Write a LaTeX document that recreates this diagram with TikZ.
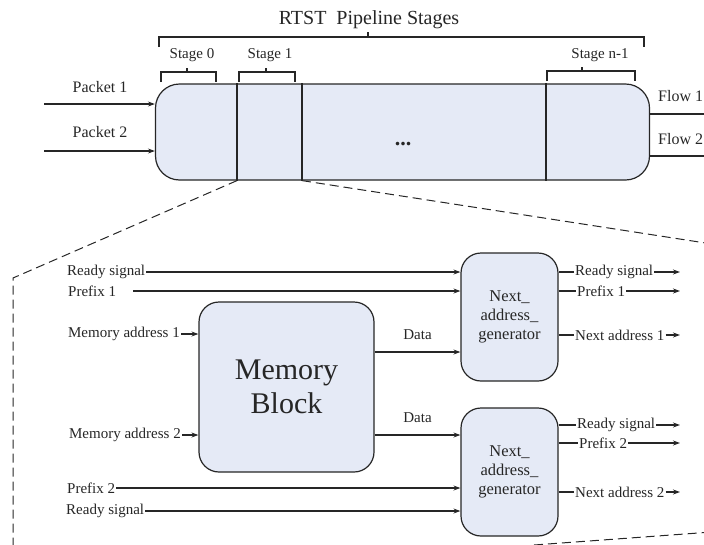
\documentclass[tikz,border=0pt]{standalone}
\usepackage{fontspec}
\setmainfont{Liberation Serif}
\usetikzlibrary{arrows.meta}
\definecolor{blockfill}{RGB}{229,234,246}
\definecolor{inkgray}{RGB}{38,38,38}
\begin{document}
\begin{tikzpicture}[x=1pt,y=-1pt,color=inkgray,line width=1.2pt,
        block/.style={draw, fill=blockfill, line width=1.2pt, rounded corners=20pt, inner sep=0pt},
        lbl/.style={inner sep=0.6pt, font=\fontsize{15}{18}\selectfont},
        biglbl/.style={inner sep=0.6pt, font=\fontsize{16}{18}\selectfont},
        sig/.style={-{Stealth[length=7pt,width=5pt]}},
        zoomline/.style={dash pattern=on 9pt off 5pt, line width=1pt}]
        \useasboundingbox (0,0) rectangle (704,544);
        
        % Drawing pipeline box
        \node (pipe) [block, rounded corners=24pt, minimum width=494pt, minimum height=96pt] at (402.5,132) {};%
        \coordinate (cut1) at (237,0);%
        \coordinate (cut2) at (302,0);%
        \coordinate (cut3) at (546,0);%
        \draw (pipe.north -| cut1) -- (pipe.south -| cut1);%
        \draw (pipe.north -| cut2) -- (pipe.south -| cut2);%
        \draw (pipe.north -| cut3) -- (pipe.south -| cut3);%
        \node (dots) [anchor=base, font=\fontsize{22}{22}\bfseries] at (403,145) {...};%
        
        % Marking stages by brackets
        \node (title) [font=\fontsize{20}{22}\selectfont] at (369,20) {RTST~ Pipeline Stages};%
        \draw (159,47) -- (159,37) -- (644,37) -- (644,47);%
        \draw (368,37) -- (368,32);%
        \node (stg0) [lbl] at (192,55) {Stage 0};%
        \draw (161,82) -- (161,72) -- (216,72) -- (216,82);%
        \draw (187,72) -- (187,68);%
        \node (stg1) [lbl] at (270,55) {Stage 1};%
        \draw (239,82) -- (239,72) -- (295,72) -- (295,82);%
        \draw (266,72) -- (266,68);%
        \node (stgn) [lbl] at (600,55) {Stage n-1};%
        \draw (547,81) -- (547,71) -- (635,71) -- (635,81);%
        \draw (582,71) -- (582,67);%
        
        % Drawing packets in and flows out
        \node (pkt1) [biglbl] at (100,87) {Packet 1};%
        \node (pkt2) [biglbl] at (100,132) {Packet 2};%
        \coordinate (pktA) at (44,104);%
        \coordinate (pktB) at (44,151);%
        \draw [sig] (pktA) -- (pipe.west |- pktA);%
        \draw [sig] (pktB) -- (pipe.west |- pktB);%
        \node (flw1) [biglbl, anchor=west] at (657,96) {Flow 1};%
        \node (flw2) [biglbl, anchor=west] at (657,139) {Flow 2};%
        \coordinate (flwA) at (710,114);%
        \coordinate (flwB) at (710,156);%
        \draw (pipe.east |- flwA) -- (flwA);%
        \draw (pipe.east |- flwB) -- (flwB);%
        
        % Drawing zoom of stage 1
        \coordinate (zoomL) at (13,278);%
        \draw [zoomline] (pipe.south -| cut1) -- (zoomL) -- (13,550);%
        \draw [zoomline] (pipe.south -| cut2) -- (712,244);%
        \draw [zoomline] (534,545) -- (712,532);%
        
        % Drawing memory block and generators
        \node (mem) [block, minimum width=175pt, minimum height=170pt, align=center,
            font=\fontsize{30}{34}\selectfont] at (286.5,387) {Memory\\Block};%
        \node (gen1) [block, minimum width=97pt, minimum height=128pt, align=center,
            font=\fontsize{16.5}{19}\selectfont] at (509.5,317) {Next\_\\address\_\\generator};%
        \node (gen2) [block, minimum width=97pt, minimum height=128pt, align=center,
            font=\fontsize{16.5}{19}\selectfont] at (509.5,472) {Next\_\\address\_\\generator};%
        
        % Drawing inputs
        \node (rdyA) [lbl, anchor=west] at (66,272) {Ready signal};%
        \draw [sig] (rdyA) -- (gen1.west |- rdyA);%
        \node (preA) [lbl, anchor=west] at (67,291) {Prefix 1};%
        \draw [sig] ([xshift=16pt]preA.east) -- (gen1.west |- preA);%
        \node (memA) [lbl, anchor=east] at (181,334) {Memory address 1};%
        \draw [sig] (memA) -- (mem.west |- memA);%
        \node (memB) [lbl, anchor=east] at (182,435) {Memory address 2};%
        \draw [sig] (memB) -- (mem.west |- memB);%
        \node (preB) [lbl, anchor=west] at (66,488) {Prefix 2};%
        \draw [sig] (preB) -- (gen2.west |- preB);%
        \node (rdyD) [lbl, anchor=west] at (65,511) {Ready signal};%
        \draw [sig] (rdyD) -- (gen2.west |- rdyD);%
        
        % Drawing data lines
        \coordinate (datA) at (0,352);%
        \coordinate (datB) at (0,435);%
        \draw [sig] (mem.east |- datA) -- node (dat1) [lbl, above=11pt] {Data} (gen1.west |- datA);%
        \draw [sig] (mem.east |- datB) -- node (dat2) [lbl, above=11pt] {Data} (gen2.west |- datB);%
        
        % Drawing outputs
        \coordinate (outR) at (680,0);%
        \node (rdyB) [lbl, anchor=west] at (574,272) {Ready signal};%
        \draw (gen1.east |- rdyB) -- (rdyB);%
        \draw [sig] (rdyB) -- (rdyB -| outR);%
        \node (preC) [lbl, anchor=west] at (576,291) {Prefix 1};%
        \draw (gen1.east |- preC) -- (preC);%
        \draw [sig] (preC) -- (preC -| outR);%
        \node (nxtA) [lbl, anchor=west] at (574,335) {Next address 1};%
        \draw (gen1.east |- nxtA) -- (nxtA);%
        \draw [sig] (nxtA) -- (nxtA -| outR);%
        \node (rdyC) [lbl, anchor=west] at (576,425) {Ready signal};%
        \draw (gen2.east |- rdyC) -- (rdyC);%
        \draw [sig] (rdyC) -- (rdyC -| outR);%
        \node (preD) [lbl, anchor=west] at (578,443) {Prefix 2};%
        \draw (gen2.east |- preD) -- (preD);%
        \draw [sig] (preD) -- (preD -| outR);%
        \node (nxtB) [lbl, anchor=west] at (574,492) {Next address 2};%
        \draw (gen2.east |- nxtB) -- (nxtB);%
        \draw [sig] (nxtB) -- (nxtB -| outR);%
    \end{tikzpicture}
\end{document}
